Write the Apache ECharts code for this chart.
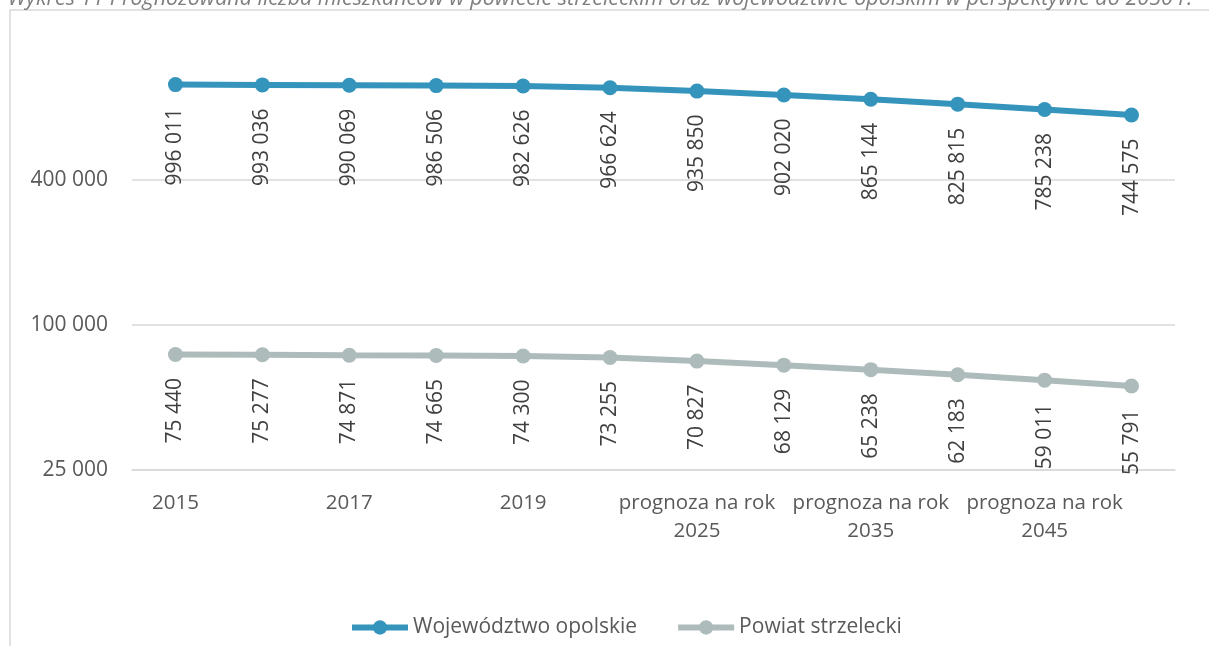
<!DOCTYPE html>
<html>
<head>
<meta charset="utf-8">
<title>Wykres 11</title>
<script src="https://cdn.jsdelivr.net/npm/echarts@6/dist/echarts.min.js"></script>
<style>
  html, body { margin: 0; padding: 0; background: #ffffff; }
  #main { width: 1209px; height: 646px; }
</style>
</head>
<body>
<div id="main"></div>
<script>
"use strict";

// kategorie osi X
var lata = ['2015', '2016', '2017', '2018', '2019',
    'prognoza na rok 2020', 'prognoza na rok 2025', 'prognoza na rok 2030',
    'prognoza na rok 2035', 'prognoza na rok 2040', 'prognoza na rok 2045',
    'prognoza na rok 2050'];

// liczba mieszkańców
var wojewodztwo = [996011, 993036, 990069, 986506, 982626, 966624, 935850, 902020, 865144, 825815, 785238, 744575];
var powiat = [75440, 75277, 74871, 74665, 74300, 73255, 70827, 68129, 65238, 62183, 59011, 55791];

// oś logarytmiczna o podstawie 4, zaczynająca się od 25 000
var podstawa = 4;
var osMin = 25000;
var osKroki = 3; // 25 000 -> 1 600 000

var fontFamily = '"Open Sans", "Liberation Sans", sans-serif';

function fmt(v) {
    return String(Math.round(v)).replace(/\B(?=(\d{3})+(?!\d))/g, ' ');
}
function toLog(v) {
    return Math.log(v / osMin) / Math.log(podstawa);
}

var chart = echarts.init(document.getElementById('main'), null, {renderer: 'canvas'});

function seria(name, values, color) {
    return {
        name: name,
        type: 'line',
        data: values.map(toLog),
        symbol: 'circle',
        symbolSize: 15,
        lineStyle: {width: 6, color: color},
        itemStyle: {color: color},
        label: {
            show: true,
            position: 'bottom',
            distance: 16,
            rotate: 90,
            align: 'right',
            verticalAlign: 'middle',
            color: '#404040',
            fontSize: 21,
            fontFamily: fontFamily,
            formatter: function (p) { return fmt(values[p.dataIndex]); }
        }
    };
}

var option = {
    animation: false,
    backgroundColor: '#ffffff',
    color: ['#3494bc', '#aebbbb'],
    graphic: [
        // ramka wykresu
        {
            type: 'rect',
            shape: {x: 10, y: 10, width: 1300, height: 800},
            style: {fill: 'none', stroke: '#d9d9d9', lineWidth: 1.5},
            silent: true
        },
        // tytuł (ucięty u góry)
        {
            type: 'text',
            x: 600,
            y: 10,
            style: {
                text: 'Wykres 11 Prognozowana liczba mieszkańców w powiecie strzeleckim oraz województwie opolskim w perspektywie do 2050 r.',
                fill: '#7f7f7f',
                font: 'italic 21.5px ' + fontFamily,
                textAlign: 'center',
                textVerticalAlign: 'bottom'
            },
            silent: true
        }
    ],
    grid: {left: 132, right: 34, top: 35, bottom: 176, containLabel: false},
    legend: {
        bottom: 3,
        left: 344,
        itemWidth: 56,
        itemHeight: 18,
        itemGap: 38,
        lineStyle: {width: 6},
        textStyle: {color: '#595959', fontSize: 21, fontFamily: fontFamily},
        data: ['Województwo opolskie', 'Powiat strzelecki']
    },
    xAxis: {
        type: 'category',
        data: lata,
        boundaryGap: true,
        axisLine: {lineStyle: {color: '#d9d9d9', width: 1.5}},
        axisTick: {show: false},
        axisLabel: {
            interval: 1,
            margin: 19,
            color: '#595959',
            fontSize: 20.5,
            lineHeight: 28,
            fontFamily: fontFamily,
            formatter: function (v) { return v.replace(/ (\d{4})$/, '\n$1'); }
        }
    },
    yAxis: {
        type: 'value',
        min: 0,
        max: osKroki,
        interval: 1,
        axisLine: {show: false},
        axisTick: {show: false},
        splitLine: {
            lineStyle: {
                // górna linia (1 600 000) niewidoczna
                color: ['#d9d9d9', '#d9d9d9', '#d9d9d9', 'rgba(0,0,0,0)'],
                width: 1.5
            }
        },
        axisLabel: {
            margin: 24,
            showMaxLabel: false,
            color: '#595959',
            fontSize: 21,
            fontFamily: fontFamily,
            formatter: function (v) { return fmt(osMin * Math.pow(podstawa, v)); }
        }
    },
    series: [
        seria('Województwo opolskie', wojewodztwo, '#3494bc'),
        seria('Powiat strzelecki', powiat, '#aebbbb')
    ]
};

chart.setOption(option);
</script>
</body>
</html>
